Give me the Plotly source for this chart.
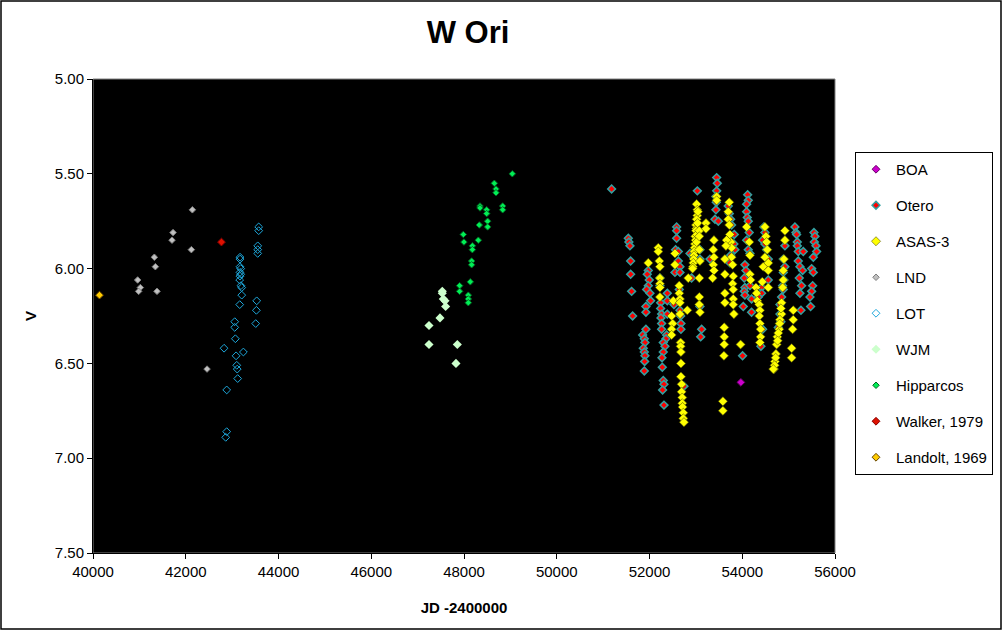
import plotly.graph_objects as go

# ---- data (JD - 2400000, V magnitude) ----
boa_jd = [53970]
boa_v = [6.60]

otero_jd = [51183, 51543, 51556, 51578, 51593, 51593, 51614, 51636,
            51974, 51952, 51995, 51974, 51938, 52010, 52024, 51923, 51923, 51923,
            51852, 51888, 51902, 51866, 51888, 51902, 51895, 51888,
            52225, 52225, 52240, 52240, 52261, 52247, 52261, 52261, 52384, 52384,
            52527, 52384, 52369, 52355, 52297, 52333, 52297, 52269, 52276, 52297,
            52312, 52283, 52312,
            52585, 52585, 52585, 52563, 52621, 52621, 52657, 52549, 52657, 52642,
            52657, 52671, 52678, 52678, 52743,
            53031, 52873, 52930, 52908, 53088, 53088, 53088, 53124, 53103,
            53448, 53462, 53448, 53433, 53412, 53484, 53304, 53432, 53440,
            53698, 53720, 53749, 53770, 53828, 53820, 53842, 53749, 53734,
            54116, 54130, 54094, 54094, 54108, 54130, 54151, 54094, 54130, 54166,
            54058, 54079, 54043, 54058, 54043, 54058, 54166, 54201, 54022, 54201, 54007,
            54467, 54489, 54439, 54489, 54525, 54561, 54489, 54561, 54417, 54417,
            54345, 54439, 54403,
            54920, 54885, 54920, 54885, 54899, 54870, 54885, 54849, 54813, 54813,
            54834, 54777,
            55136, 55158, 55172, 55187, 55187, 55208, 55316, 55208, 55244, 55301,
            55230, 55280, 55244, 55266,
            55546, 55568, 55554, 55590, 55604, 55532, 55496, 55532, 55518, 55496,
            55460, 55474]
otero_v = [5.58, 5.84, 5.86, 5.88, 5.96, 6.03, 6.12, 6.25,
           6.01, 6.03, 6.06, 6.09, 6.11, 6.13, 6.17, 6.20, 6.23, 6.32,
           6.35, 6.37, 6.39, 6.42, 6.44, 6.46, 6.49, 6.54,
           6.05, 6.09, 6.18, 6.21, 6.24, 6.26, 6.29, 6.32, 6.13, 6.17,
           6.19, 6.24, 6.35, 6.37, 6.39, 6.41, 6.44, 6.47, 6.52, 6.59,
           6.61, 6.64, 6.72,
           5.78, 5.80, 5.84, 5.90, 5.91, 5.96, 5.99, 6.02, 6.02, 6.11,
           6.22, 6.25, 6.29, 6.32, 6.62,
           5.59, 5.92, 5.93, 6.05, 5.90, 5.95, 6.20, 6.32, 6.36,
           5.52, 5.55, 5.59, 5.69, 5.74, 5.75, 5.95, 5.62, 5.65,
           5.67, 5.71, 5.74, 5.77, 5.82, 5.87, 5.90, 5.93, 5.97,
           5.61, 5.64, 5.66, 5.70, 5.73, 5.75, 5.81, 5.85, 5.90, 5.92,
           5.98, 6.01, 6.05, 6.10, 6.12, 6.14, 6.09, 6.16, 6.20, 6.23, 6.46,
           5.78, 5.81, 5.85, 5.87, 5.90, 5.95, 5.99, 6.06, 6.10, 6.13,
           6.15, 6.32, 6.41,
           5.88, 5.95, 5.99, 6.02, 6.06, 6.09, 6.11, 6.15, 6.19, 6.24,
           6.28, 6.31,
           5.78, 5.81, 5.82, 5.86, 5.88, 5.91, 5.91, 5.96, 5.99, 6.01,
           6.05, 6.09, 6.13, 6.22,
           5.81, 5.83, 5.86, 5.88, 5.91, 5.94, 6.00, 6.02, 6.09, 6.12,
           6.15, 6.20]

asas_jd = [51974, 52190, 52190, 52211, 52225, 52225, 52225, 52225, 52225,
           52513, 52477, 52499, 52477, 52477, 52549, 52549,
           52642, 52642, 52657, 52657, 52657, 52815, 52836, 53074,
           52671, 52671, 52678, 52678, 52678, 52693, 52693, 52707, 52707, 52714,
           52729, 52729, 52743,
           53016, 53031, 53031, 53016, 53002, 53009, 53002, 52988, 52995, 52980,
           52973, 52966, 52959, 52952, 52944, 52937, 52930, 53045, 53038, 53024, 53016,
           53074, 53074, 53074, 53088, 53218, 53218, 53074, 53074, 53088,
           53390, 53376, 53390, 53376, 53390, 53362, 53448, 53448,
           53720, 53698, 53698, 53720, 53734, 53756, 53770, 53770, 53792, 53806,
           53792, 53806, 53806, 53806, 53820,
           53662, 53648, 53626, 53626, 53626, 53626, 53612, 53612, 53612, 53605,
           53964, 53583, 53583,
           54094, 54151, 54166, 54166, 54180,
           54295, 54309, 54324, 54367, 54381, 54367, 54381, 54396, 54396, 54381,
           54489, 54511, 54525, 54540, 54489, 54453, 54561, 54561, 54561, 54432,
           54920, 54920, 54899, 54885, 54885, 54870, 54849, 54849, 54813, 54799,
           54756, 54741, 54727, 54705, 54684, 54835, 54806, 54777, 54763, 54720,
           54698, 54669,
           55100, 55100, 55086, 55065, 55065]
asas_v = [5.97, 5.89, 5.91, 5.96, 5.99, 6.05, 6.08, 6.10, 6.15,
          6.17, 6.25, 6.29, 6.32, 6.35, 5.92, 5.98,
          6.09, 6.13, 6.16, 6.18, 6.24, 6.22, 6.05, 6.05,
          6.39, 6.41, 6.44, 6.50, 6.57, 6.61, 6.65, 6.68, 6.71, 6.73,
          6.76, 6.79, 6.81,
          5.66, 5.69, 5.72, 5.74, 5.77, 5.79, 5.80, 5.83, 5.85, 5.87,
          5.89, 5.91, 5.93, 5.95, 5.97, 5.99, 6.00, 5.70, 5.76, 5.82, 5.86,
          5.80, 5.83, 5.90, 5.96, 5.76, 5.79, 6.15, 6.19, 6.23,
          5.85, 5.90, 5.94, 5.98, 6.01, 6.05, 5.62, 5.64,
          5.65, 5.70, 5.74, 5.77, 5.82, 5.86, 5.89, 5.94, 5.98, 6.04,
          6.08, 6.11, 6.16, 6.19, 6.24,
          5.85, 5.88, 5.95, 6.03, 6.13, 6.18, 6.31, 6.36, 6.40, 6.46,
          6.40, 6.70, 6.75,
          5.78, 5.86, 5.93, 6.03, 6.06,
          6.10, 6.13, 6.17, 6.19, 6.22, 6.25, 6.29, 6.32, 6.36, 6.39,
          5.78, 5.83, 5.86, 5.90, 5.94, 5.99, 5.97, 6.01, 6.10, 6.07,
          5.80, 5.85, 5.95, 6.01, 6.06, 6.10, 6.18, 6.24, 6.27, 6.32,
          6.36, 6.40, 6.45, 6.49, 6.53, 6.21, 6.29, 6.34, 6.38, 6.47,
          6.51, 6.53,
          6.22, 6.27, 6.32, 6.42, 6.47]

lnd_jd = [42143, 41726, 41704, 42121, 41323, 41345, 40963, 41021, 40985, 41380, 42459]
lnd_v = [5.69, 5.81, 5.85, 5.90, 5.94, 5.99, 6.06, 6.10, 6.12, 6.12, 6.53]

lot_jd = [43573, 43573, 43552, 43552, 43552, 43171, 43171, 43170, 43185, 43170,
          43185, 43170, 43163, 43190, 43207, 43207, 43164, 43530, 43523, 43509,
          43056, 43056, 43070, 42826, 43243, 43085, 43100, 43110, 43120, 42883,
          42883, 42862]
lot_v = [5.78, 5.80, 5.88, 5.90, 5.92, 5.94, 5.95, 5.99, 6.00, 6.02,
         6.03, 6.04, 6.06, 6.09, 6.10, 6.14, 6.19, 6.17, 6.22, 6.29,
         6.28, 6.31, 6.37, 6.42, 6.44, 6.46, 6.51, 6.53, 6.58, 6.64,
         6.86, 6.89]

wjm_jd = [47532, 47532, 47554, 47590, 47604, 47482, 47245, 47245, 47856, 47827]
wjm_v = [6.12, 6.13, 6.16, 6.17, 6.20, 6.26, 6.30, 6.40, 6.40, 6.50]

hip_jd = [49042, 48654, 48690, 48690, 48345, 48345, 48489, 48489, 48834, 48834,
          48330, 48510, 48510, 47985, 47999, 48309, 48180, 48180, 48165, 48165,
          48136, 47906, 47906, 48093, 48093, 48093]
hip_v = [5.50, 5.55, 5.58, 5.60, 5.67, 5.68, 5.69, 5.71, 5.67, 5.69,
         5.77, 5.75, 5.78, 5.82, 5.86, 5.85, 5.88, 5.90, 5.96, 5.98,
         6.07, 6.09, 6.12, 6.14, 6.16, 6.18]

walker_jd = [42770]
walker_v = [5.86]

landolt_jd = [40140]
landolt_v = [6.14]

FONT = "Liberation Sans, Arial, sans-serif"

series = [
    ("BOA", boa_jd, boa_v, dict(symbol="diamond", size=6, color="#CC00CC", line=dict(color="#660066", width=1))),
    ("Otero", otero_jd, otero_v, dict(symbol="diamond", size=6, color="#FF0000", line=dict(color="#33A0A0", width=1.5))),
    ("ASAS-3", asas_jd, asas_v, dict(symbol="diamond", size=7, color="#FFFF00", line=dict(color="#555500", width=0.6))),
    ("LND", lnd_jd, lnd_v, dict(symbol="diamond", size=5, color="#C0C0C0", line=dict(color="#808080", width=1))),
    ("LOT", lot_jd, lot_v, dict(symbol="diamond-open", size=6, color="#1EA8DC", line=dict(color="#1EA8DC", width=1))),
    ("WJM", wjm_jd, wjm_v, dict(symbol="diamond", size=7, color="#CCFFCC", line=dict(width=0))),
    ("Hipparcos", hip_jd, hip_v, dict(symbol="diamond", size=5, color="#00EE55", line=dict(color="#006622", width=1))),
    ("Walker, 1979", walker_jd, walker_v, dict(symbol="diamond", size=6, color="#DD1100", line=dict(color="#880000", width=1))),
    ("Landolt, 1969", landolt_jd, landolt_v, dict(symbol="diamond", size=6, color="#FFCC00", line=dict(color="#664400", width=1))),
]

fig = go.Figure()
for name, xs, ys, mk in series:
    fig.add_trace(go.Scatter(x=xs, y=ys, mode="markers", name=name,
                             legendgroup=name, marker=mk))

L, R, T, B = 93, 167, 79, 77
W, H = 1002, 630
pw, ph = W - L - R, H - T - B

fig.update_layout(
    width=W, height=H,
    margin=dict(l=L, r=R, t=T, b=B, autoexpand=False),
    paper_bgcolor="white",
    plot_bgcolor="black",
    font=dict(family=FONT, size=15, color="black"),
    title=dict(text="<b>W Ori</b>", x=(468 - L) / pw, xref="paper", xanchor="center",
               y=1 - 32 / H, yanchor="middle", font=dict(size=31, family=FONT)),
    showlegend=True,
    legend=dict(x=(855 - L) / pw, y=(553 - 152) / ph, xanchor="left", yanchor="top",
                bgcolor="white", bordercolor="black", borderwidth=1,
                font=dict(size=15, family=FONT), tracegroupgap=13.5,
                itemsizing="trace"),
    xaxis=dict(range=[40000, 56000], dtick=2000, tick0=40000, showgrid=False,
               zeroline=False, showline=True, linecolor="black", linewidth=1,
               ticks="outside", ticklen=5, tickcolor="black",
               tickfont=dict(size=15), tickformat="d",
               title=dict(text="<b>JD -2400000</b>", font=dict(size=15), standoff=23)),
    yaxis=dict(range=[7.5, 5.0], dtick=0.5, tick0=5.0, showgrid=False,
               zeroline=False, showline=True, linecolor="black", linewidth=1,
               ticks="outside", ticklen=5, tickcolor="black",
               tickfont=dict(size=15), tickformat=".2f",
               title=dict(text="<b>V</b>", font=dict(size=15), standoff=14)),
)

# grey border of the plot area
fig.add_shape(type="rect", xref="paper", yref="paper", x0=0, x1=1, y0=0, y1=1,
              line=dict(color="#808080", width=1), layer="below")
# black frame round the whole chart
fig.add_shape(type="rect", xref="paper", yref="paper",
              x0=-(L - 1) / pw, x1=(W - L - 1) / pw,
              y0=-(B - 1) / ph, y1=(H - B - 1) / ph,
              line=dict(color="black", width=1.5), layer="above")

fig.write_html("out.html", config={"displayModeBar": False},
               post_script="document.body.style.margin='0';document.body.style.overflow='hidden';")
